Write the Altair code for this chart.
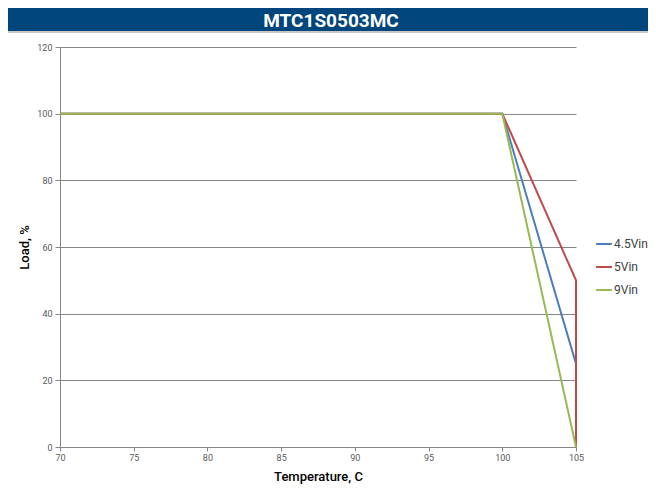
import altair as alt
import pandas as pd

series_names = ["4.5Vin", "5Vin", "9Vin"]
colors = ["#4A7EBB", "#BE4B48", "#98B954"]
temp_45 = [70, 100, 105, 105]
load_45 = [100, 100, 25, 0]
temp_5 = [70, 100, 105, 105]
load_5 = [100, 100, 50, 0]
temp_9 = [70, 100, 105]
load_9 = [100, 100, 0]
x_ticks = [70, 75, 80, 85, 90, 95, 100, 105]
y_ticks = [0, 20, 40, 60, 80, 100, 120]
title_text = "MTC1S0503MC"

rows = []
for name, xs, ys in [("4.5Vin", temp_45, load_45), ("5Vin", temp_5, load_5), ("9Vin", temp_9, load_9)]:
    for i, (a, b) in enumerate(zip(xs, ys)):
        rows.append({"series": name, "temp": a, "load": b, "idx": i})
df = pd.DataFrame(rows)

FONT = "Roboto, Liberation Sans, sans-serif"

lines = alt.Chart(df).mark_line(strokeWidth=2).encode(
    x=alt.X("temp:Q", scale=alt.Scale(domain=[70, 105], nice=False),
            axis=alt.Axis(values=x_ticks, title="Temperature, C", grid=False,
                          labelFontSize=9, labelColor="#595959", tickColor="#868686",
                          domainColor="#868686", tickSize=4, titleFontSize=13,
                          titleFontWeight=500, titleColor="#000000", titlePadding=8,
                          labelFont=FONT, titleFont=FONT, labelFlush=False)),
    y=alt.Y("load:Q", scale=alt.Scale(domain=[0, 120], nice=False),
            axis=alt.Axis(values=y_ticks, title="Load, %", grid=True, gridColor="#868686",
                          labelFontSize=9, labelColor="#595959", tickColor="#868686",
                          domainColor="#868686", tickSize=5, titleFontSize=13,
                          titleFontWeight=500, titleColor="#000000", titlePadding=5,
                          labelFont=FONT, titleFont=FONT, labelPadding=3)),
    color=alt.Color("series:N", scale=alt.Scale(domain=series_names, range=colors),
                    legend=alt.Legend(title=None, orient="none", legendX=535, legendY=188,
                                      symbolType="stroke", symbolSize=250, symbolStrokeWidth=2,
                                      labelFontSize=12, labelColor="#404040", labelFont=FONT,
                                      rowPadding=8, labelOffset=1)),
    order=alt.Order("idx:Q"),
)

tdf = pd.DataFrame({"t": [title_text]})
bar = alt.Chart(tdf).mark_rect(color="#00457C").encode(
    x=alt.value(-60), x2=alt.value(600), y=alt.value(-50), y2=alt.value(-16)
)
bar_line = alt.Chart(tdf).mark_rule(color="#C8C8C8", strokeWidth=2).encode(
    x=alt.value(-60), x2=alt.value(600), y=alt.value(-15)
)
ttl = alt.Chart(tdf).mark_text(color="white", fontSize=19, fontWeight="bold", font=FONT,
                               baseline="middle", align="center").encode(
    text="t:N", x=alt.value(271), y=alt.value(-26)
)

chart = alt.layer(bar, bar_line, ttl, lines).properties(
    width=516, height=400,
    autosize=alt.AutoSizeParams(type="none"),
    padding={"left": 52, "top": 39, "right": 72, "bottom": 42},
    background="white",
).configure_view(stroke=None)

chart.save("out.html", embed_options={"renderer": "svg", "actions": False})
